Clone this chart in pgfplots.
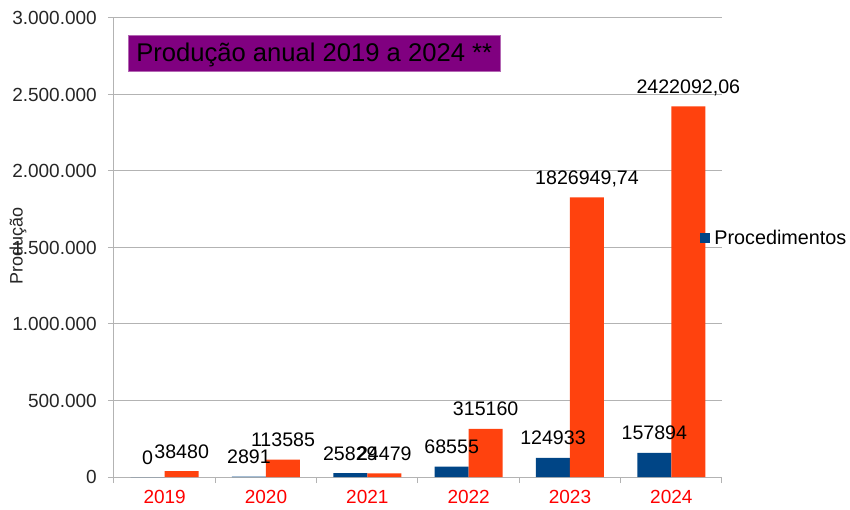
\documentclass[border=0pt]{standalone}
\usepackage{fontspec}
\setmainfont{Liberation Sans}
\usepackage{pgfplots}
\pgfplotsset{compat=1.18}
\definecolor{blueS}{HTML}{004586}
\definecolor{orangeS}{HTML}{FF420E}
\definecolor{titlebg}{HTML}{800080}
\definecolor{gridc}{HTML}{B3B3B3}
\definecolor{redlab}{HTML}{FF0000}
\newcommand\lf{\fontsize{19bp}{23bp}\selectfont}
\newcommand\df{\fontsize{19.6bp}{23bp}\selectfont}
\begin{document}
\begin{tikzpicture}
\begin{axis}[
  scale only axis, width=608bp, height=459bp,
  xmin=-0.5, xmax=5.5, ymin=0, ymax=3000000,
  ybar=0pt, bar width=34bp,
  axis lines*=left,
  axis line style={gridc, line width=1bp},
  ymajorgrids, grid style={gridc, line width=1bp},
  xtick={-0.5,0.5,1.5,2.5,3.5,4.5,5.5}, xticklabels={},
  extra x ticks={0,1,2,3,4,5},
  extra x tick labels={2019,2020,2021,2022,2023,2024},
  extra x tick style={major tick length=0pt, xticklabel style={font=\lf, text=redlab, inner sep=0pt, yshift=-13bp}},
  tick align=outside,
  major tick length=6bp,
  tick style={gridc, line width=1bp},
  ytick={0,500000,1000000,1500000,2000000,2500000,3000000},
  scaled y ticks=false,
  yticklabel style={/pgf/number format/.cd, fixed, 1000 sep={.}, assume math mode=true, /tikz/.cd, font=\lf, text=black!85, inner sep=0pt, xshift=-11bp},
  ylabel={Produção},
  ylabel style={at={(axis description cs:-0.158,0.503)}, anchor=center, font=\fontsize{18bp}{21bp}\selectfont, text=black!85},
  point meta=explicit symbolic,
  nodes near coords,
  nodes near coords style={anchor=base, yshift=13bp, inner sep=0pt, font=\df, text=black},
  legend image code/.code={\fill[#1] (0bp,-5bp) rectangle (10bp,5bp);},
  legend style={at={(axis description cs:0.964,0.52)}, anchor=west, draw=none, fill=none, font=\fontsize{19.8bp}{23bp}\selectfont, inner sep=0pt, legend cell align=left, nodes={inner xsep=4bp}},
  clip=false,
]
\addplot[fill=blueS, draw=none] coordinates {
  (0,0) [0]
  (1,2891) [2891]
  (2,25829) [25829]
  (3,68555) [68555]
  (4,124933) [124933]
  (5,157894) [157894]
};
\addlegendentry{Procedimentos}
\addplot[fill=orangeS, draw=none] coordinates {
  (0,38480) [38480]
  (1,113585) [113585]
  (2,24479) [24479]
  (3,315160) [315160]
  (4,1826949.74) [1826949,74]
  (5,2422092.06) [2422092,06]
};
\end{axis}
\node[anchor=west, fill=titlebg, draw=titlebg!60!white, line width=0.6bp, text=black, font=\fontsize{25.6bp}{30bp}\selectfont, text height=18bp, text depth=0bp, inner ysep=9bp, inner xsep=8bp] at (14bp,424bp) {Produção anual 2019 a 2024 **};
\pgfresetboundingbox
\path[use as bounding box] (-114bp,-33bp) rectangle (736bp,477bp);
\end{tikzpicture}
\end{document}
